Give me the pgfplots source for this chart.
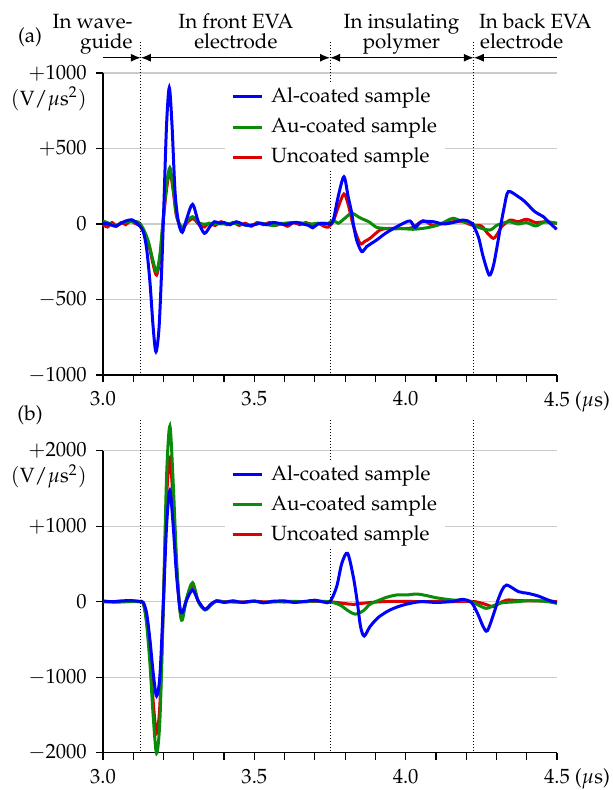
\documentclass[border=0pt]{standalone}
\usepackage[T1]{fontenc}
\usepackage{mathpazo}
\usepackage{pgfplots}
\pgfplotsset{compat=1.18}
\usetikzlibrary{arrows.meta}
\definecolor{cblue}{RGB}{0,0,255}
\definecolor{cgreen}{RGB}{10,140,10}
\definecolor{cred}{RGB}{220,0,0}

\pgfplotstableread{
t v
3.000 5
3.020 0
3.040 -15
3.060 5
3.075 20
3.095 28
3.110 10
3.120 -10
3.133 -51
3.144 -161
3.155 -382
3.166 -691
3.175 -846
3.185 -691
3.194 -294
3.2015 148
3.210 656
3.219 903
3.228 656
3.238 214
3.249 15
3.262 -55
3.277 38
3.296 130
3.315 15
3.335 -62
3.353 -18
3.368 15
3.385 5
3.40 10
3.42 -5
3.44 15
3.46 0
3.48 -10
3.50 -5
3.52 5
3.54 -5
3.56 10
3.58 5
3.60 -5
3.62 5
3.64 10
3.66 0
3.68 -10
3.693 -25
3.71 0
3.73 5
3.75 0
3.761 26
3.777 181
3.796 313
3.810 181
3.822 71
3.827 0
3.838 -106
3.855 -183
3.871 -150
3.904 -106
3.937 -57
3.981 -7
4.014 20
4.031 -22
4.053 15
4.091 15
4.124 0
4.157 10
4.190 26
4.218 5
4.240 -84
4.256 -216
4.276 -338
4.289 -283
4.300 -172
4.315 0
4.326 115
4.339 214
4.372 181
4.394 148
4.427 81
4.455 48
4.477 5
4.499 -35
}\alA

\pgfplotstableread{
t v
3.000 20
3.020 5
3.040 -10
3.060 5
3.080 15
3.100 15
3.117 13
3.133 -31
3.150 -117
3.166 -250
3.177 -316
3.188 -205
3.199 38
3.210 258
3.221 373
3.232 236
3.243 60
3.260 -25
3.276 15
3.296 48
3.320 4
3.34 0
3.36 5
3.40 0
3.44 5
3.48 -10
3.52 5
3.56 -10
3.60 5
3.64 10
3.68 0
3.72 5
3.745 5
3.761 26
3.777 5
3.800 40
3.822 71
3.850 40
3.880 13
3.904 -22
3.937 -30
3.959 -33
3.990 -30
4.025 -35
4.070 -25
4.110 -5
4.135 20
4.157 38
4.190 15
4.218 5
4.240 -22
4.278 -40
4.300 -10
4.317 4
4.345 15
4.370 0
4.400 9
4.430 -13
4.460 15
4.500 4
}\auA

\pgfplotstableread{
t v
3.000 -5
3.015 -20
3.030 10
3.045 -15
3.060 10
3.075 -5
3.090 20
3.105 5
3.120 -10
3.133 -40
3.150 -130
3.166 -270
3.177 -338
3.188 -230
3.199 20
3.210 230
3.221 346
3.232 220
3.243 50
3.262 -30
3.278 10
3.298 35
3.320 -10
3.335 -20
3.35 5
3.37 -10
3.39 15
3.41 -5
3.43 10
3.45 -10
3.47 5
3.49 -15
3.51 10
3.53 -5
3.55 10
3.57 -10
3.59 5
3.61 -15
3.63 10
3.65 -5
3.67 10
3.69 -5
3.71 5
3.73 -15
3.745 -20
3.761 20
3.777 110
3.796 199
3.810 130
3.827 -10
3.849 -128
3.865 -115
3.882 -95
3.915 -40
3.940 -30
3.970 -29
4.000 -30
4.025 -22
4.058 22
4.090 -10
4.120 5
4.157 15
4.190 15
4.218 -7
4.250 -13
4.270 -60
4.290 -95
4.305 -60
4.317 -18
4.345 26
4.370 15
4.400 31
4.430 9
4.460 15
4.500 4
}\unA

\pgfplotstableread{
t v
3.000 10
3.030 0
3.060 10
3.090 15
3.120 5
3.133 -10
3.144 -150
3.155 -500
3.166 -950
3.177 -1249
3.188 -980
3.199 -50
3.210 1000
3.221 1470
3.232 1000
3.243 350
3.254 -80
3.262 -146
3.276 20
3.296 155
3.315 10
3.337 -101
3.357 -30
3.375 10
3.40 -10
3.43 10
3.46 -10
3.50 10
3.53 -15
3.56 5
3.60 10
3.63 -10
3.67 5
3.70 20
3.73 -5
3.750 0
3.772 199
3.789 508
3.808 641
3.827 331
3.840 0
3.851 -331
3.863 -454
3.882 -331
3.910 -207
3.948 -110
3.992 -44
4.047 0
4.102 -10
4.157 5
4.190 31
4.218 -13
4.240 -177
4.255 -320
4.270 -384
4.295 -110
4.303 0
4.318 150
4.334 221
4.373 133
4.405 110
4.438 75
4.471 22
4.499 -13
}\alB

\pgfplotstableread{
t v
3.000 5
3.030 0
3.060 5
3.090 0
3.120 0
3.133 -20
3.144 -287
3.155 -816
3.166 -1523
3.177 -2008
3.188 -1567
3.199 -110
3.210 1656
3.221 2327
3.232 1568
3.243 552
3.254 -110
3.262 -242
3.276 40
3.296 252
3.315 0
3.337 -110
3.357 -44
3.375 13
3.40 -5
3.43 10
3.46 -10
3.50 5
3.53 -10
3.56 5
3.60 -5
3.63 5
3.67 0
3.70 10
3.73 0
3.750 0
3.783 -44
3.810 -120
3.833 -165
3.860 -120
3.880 -40
3.900 0
3.937 58
3.970 89
4.003 89
4.036 102
4.070 80
4.100 53
4.130 35
4.157 22
4.190 22
4.218 0
4.240 -44
4.267 -88
4.295 -44
4.320 -13
4.370 0
4.400 13
4.440 10
4.470 0
4.500 -22
}\auB

\pgfplotstableread{
t v
3.000 0
3.050 -5
3.100 5
3.120 0
3.133 -15
3.144 -250
3.155 -720
3.166 -1330
3.177 -1743
3.188 -1360
3.199 -100
3.210 1350
3.221 1899
3.232 1300
3.243 450
3.254 -90
3.262 -200
3.276 30
3.296 220
3.315 0
3.337 -100
3.357 -40
3.375 10
3.40 0
3.45 -5
3.50 5
3.55 -5
3.60 5
3.65 0
3.70 5
3.75 0
3.80 -25
3.827 -35
3.86 -20
3.90 -5
3.95 5
4.00 5
4.05 0
4.10 5
4.15 0
4.20 5
4.23 0
4.26 -30
4.29 -66
4.31 -20
4.334 22
4.37 15
4.42 10
4.46 10
4.50 0
}\unB

\tikzset{vsep/.style={densely dotted, line width=0.5pt}}
\pgfplotsset{
  panel/.style={
    width=227pt, height=151pt, scale only axis,
    xmin=3, xmax=4.5, enlargelimits=false,
    axis x line=bottom, axis y line=left,
    axis line style={-, line width=0.6pt},
    tick align=outside, major tick length=3.5pt,
    tick style={black, line width=0.6pt},
    xtick={3.0,3.1,3.2,3.3,3.4,3.5,3.6,3.7,3.8,3.9,4.0,4.1,4.2,4.3,4.4,4.5},
    xticklabels={$3.0$,,,,,$3.5$,,,,,$4.0$,,,,,$4.5$\rlap{\hspace{2.5pt}($\mu$s)}},
    xticklabel style={yshift=-1pt},
    yticklabel style={xshift=-1pt},
    ymajorgrids, grid style={gray!40, line width=0.6pt},
    clip=false,
    legend cell align=left,
    legend style={at={(rel axis cs:0.268,0.967)}, anchor=north west,
      draw=none, fill=white, inner xsep=3pt, inner ysep=1pt,
      nodes={inner sep=1pt, text height=7.5pt, text depth=2pt},
      row sep=3.6pt},
    legend image code/.code={\draw[#1] (0pt,0pt) -- (14.5pt,0pt); \path (17.5pt,0pt);},
    every axis plot/.append style={line width=1.5pt, smooth, tension=0.5},
  },
}

\begin{document}
\fontsize{10.3}{12.4}\selectfont
\begin{tikzpicture}
\path[use as bounding box] (-51.5pt,-207.5pt) rectangle (255pt,187.5pt);
% ---------- panel (a)
\begin{axis}[panel, at={(0,0)}, anchor=south west,
  ymin=-1000, ymax=1000,
  ytick={-1000,-500,0,500,1000},
  yticklabels={$-1000$,$-500$,$0$,$+500$,$+1000$}]
\addlegendimage{cblue, line width=1.5pt}\addlegendentry{Al-coated sample}
\addlegendimage{cgreen, line width=1.5pt}\addlegendentry{Au-coated sample}
\addlegendimage{cred, line width=1.5pt}\addlegendentry{Uncoated sample}
\addplot[cred, forget plot] table[x=t,y=v] {\unA};
\addplot[cgreen, forget plot] table[x=t,y=v] {\auA};
\addplot[cblue, forget plot] table[x=t,y=v] {\alA};
\draw[vsep] (axis cs:3.125,1208) -- (axis cs:3.125,-1000);
\draw[vsep] (axis cs:3.75,1208) -- (axis cs:3.75,-1000);
\draw[vsep] (axis cs:4.225,1208) -- (axis cs:4.225,-1000);
\draw[line width=0.6pt, -{Latex[length=5pt,width=4pt]}] (axis cs:3.0,1101) -- (axis cs:3.125,1101);
\draw[line width=0.6pt, {Latex[length=5pt,width=4pt]}-{Latex[length=5pt,width=4pt]}] (axis cs:3.125,1101) -- (axis cs:3.75,1101);
\draw[line width=0.6pt, {Latex[length=5pt,width=4pt]}-{Latex[length=5pt,width=4pt]}] (axis cs:3.75,1101) -- (axis cs:4.225,1101);
\draw[line width=0.6pt, {Latex[length=5pt,width=4pt]}-] (axis cs:4.225,1101) -- (axis cs:4.5,1101);
\node[anchor=base east, inner sep=0] at (axis cs:3.099,1296) {In wave-};
\node[anchor=base east, inner sep=0] at (axis cs:3.099,1164) {guide};
\node[anchor=base, inner sep=0] at (axis cs:3.439,1296) {In front EVA};
\node[anchor=base, inner sep=0] at (axis cs:3.439,1164) {electrode};
\node[anchor=base, inner sep=0] at (axis cs:3.986,1296) {In insulating};
\node[anchor=base, inner sep=0] at (axis cs:3.986,1164) {polymer};
\node[anchor=base west, inner sep=0] at (axis cs:4.241,1296) {In back EVA};
\node[anchor=base west, inner sep=0] at (axis cs:4.245,1164) {electrode};
\node[inner sep=0] at (axis cs:2.759,1240) {(a)};
\node[anchor=east, inner sep=0] at ([xshift=-8pt,yshift=-13pt]axis cs:3,1000) {$(\mathrm{V}/\mu\mathrm{s}^2)$};
\end{axis}
% ---------- panel (b)
\begin{axis}[panel, at={(0,-188.85pt)}, anchor=south west,
  ymin=-2000, ymax=2000,
  ytick={-2000,-1000,0,1000,2000},
  yticklabels={$-2000$,$-1000$,$0$,$+1000$,$+2000$}]
\addlegendimage{cblue, line width=1.5pt}\addlegendentry{Al-coated sample}
\addlegendimage{cgreen, line width=1.5pt}\addlegendentry{Au-coated sample}
\addlegendimage{cred, line width=1.5pt}\addlegendentry{Uncoated sample}
\addplot[cred, forget plot] table[x=t,y=v] {\unB};
\addplot[cgreen, forget plot] table[x=t,y=v] {\auB};
\addplot[cblue, forget plot] table[x=t,y=v] {\alB};
\draw[vsep] (axis cs:3.125,2407) -- (axis cs:3.125,-2000);
\draw[vsep] (axis cs:3.75,2407) -- (axis cs:3.75,-2000);
\draw[vsep] (axis cs:4.225,2407) -- (axis cs:4.225,-2000);
\node[inner sep=0] at (axis cs:2.759,2473) {(b)};
\node[anchor=east, inner sep=0] at ([xshift=-8pt,yshift=-13pt]axis cs:3,2000) {$(\mathrm{V}/\mu\mathrm{s}^2)$};
\end{axis}
\end{tikzpicture}
\end{document}
